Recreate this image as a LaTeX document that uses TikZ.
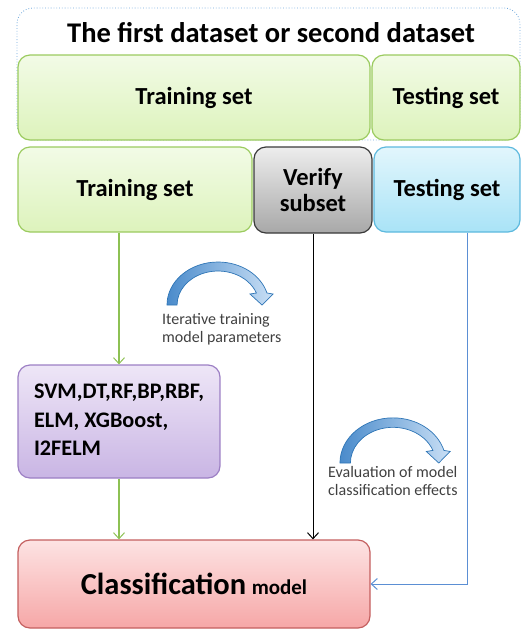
\documentclass[tikz,border=0pt]{standalone}
\usepackage{fontspec}
\setmainfont{Carlito}
\usetikzlibrary{arrows.meta,calc}
\definecolor{grnB}{HTML}{9BCB5F}
\definecolor{grnT}{HTML}{F2FBE6}
\definecolor{grnM}{HTML}{DDF3BC}
\definecolor{bluB}{HTML}{5DB9DE}
\definecolor{bluT}{HTML}{E2F6FC}
\definecolor{bluM}{HTML}{A9E3F7}
\definecolor{gryB}{HTML}{3A3A3A}
\definecolor{gryT}{HTML}{EDEDED}
\definecolor{gryM}{HTML}{A8A8A8}
\definecolor{purB}{HTML}{9C7FC4}
\definecolor{purT}{HTML}{EEE6F7}
\definecolor{purM}{HTML}{C9B5E4}
\definecolor{redB}{HTML}{C45F5F}
\definecolor{redT}{HTML}{FDE3E3}
\definecolor{redM}{HTML}{F6A7A7}
\definecolor{arrB}{HTML}{2E75B6}
\definecolor{arrD}{HTML}{4A8BCB}
\definecolor{arrL}{HTML}{C9DFF5}
\definecolor{lineG}{HTML}{8DC153}
\definecolor{lineB}{HTML}{5B8FD4}
\definecolor{dotB}{HTML}{6FA8DC}
\tikzset{
  box/.style={rectangle, rounded corners=12pt, inner sep=0pt, line width=1.2pt,
    font=\bfseries\fontsize{24.5}{27}\selectfont, align=center},
  greenbox/.style={box, draw=grnB, top color=grnT, bottom color=grnM},
  bluebox/.style={box, draw=bluB, top color=bluT, bottom color=bluM},
  graybox/.style={box, draw=gryB, top color=gryT, bottom color=gryM},
  purplebox/.style={box, draw=purB, top color=purT, bottom color=purM},
  redbox/.style={box, draw=redB, top color=redT, bottom color=redM},
  barb/.style={-{Straight Barb[length=6pt,width=11pt,line width=1pt]}},
  note/.style={font=\fontsize{16}{18}\selectfont, text=black!75, align=left, inner sep=0pt},
  curvy/.style={draw=arrB, line width=0.7pt, left color=arrD, right color=arrL},
}
\newcommand{\curvedarrow}{%
  \path[curvy] (-51,0) arc[start angle=180, end angle=16.2, x radius=51, y radius=43]
    -- (55,11) -- (44,0) -- (32,11) -- (38.4,12)
    arc[start angle=20.7, end angle=180, x radius=41, y radius=34] -- cycle;}
\begin{document}
\begin{tikzpicture}[x=1pt,y=-1pt]
\useasboundingbox (0,0) rectangle (521,630);
% outer dotted frame
\draw[dotB, dotted, line width=0.8pt, rounded corners=16pt] (17,140) -- (17,8) -- (520,8) -- (520,140) -- cycle;
\node[font=\bfseries\fontsize{28.5}{32}\selectfont, inner sep=0pt] (title) at (271,33) {The first dataset or second dataset};
% top row
\node[greenbox, minimum width=352pt, minimum height=85pt] (train1) at (194,97.5) {Training set};
\node[greenbox, minimum width=148pt, minimum height=85pt] (test1) at (446,97.5) {Testing set};
% second row
\node[greenbox, minimum width=234pt, minimum height=85pt] (train2) at (135,189.5) {Training set};
\node[graybox, minimum width=118pt, minimum height=86pt] (verify) at (313,190) {Verify\\[-1pt]subset};
\node[bluebox, minimum width=146pt, minimum height=85pt] (test2) at (447,189.5) {Testing set};
% models
\node[purplebox, minimum width=202pt, minimum height=113pt, align=left,
      font=\bfseries\fontsize{22.2}{28.5}\selectfont] (svm) at (119,421.5)
  {\begin{tabular}{@{}l@{}}SVM,DT,RF,BP,RBF,\\ELM, XGBoost,\\I2FELM\end{tabular}};
\node[redbox, minimum width=352pt, minimum height=88pt] (cls) at (194,584)
  {{\fontsize{30.5}{34}\selectfont Classification} {\fontsize{21}{24}\selectfont model}};
% connectors
\draw[lineG, line width=1.2pt, barb] (train2.south -| svm.north) -- (svm.north);
\draw[lineG, line width=1.2pt, barb] (svm.south) -- (svm.south |- cls.north);
\draw[black, line width=1pt, barb] (verify.south) -- (verify.south |- cls.north);
\draw[lineB, line width=1pt, barb] ([xshift=20pt]test2.south) |- (cls.east);
% curved arrows and notes
\begin{scope}[shift={(218,305)}, x=1pt, y=1pt]\curvedarrow\end{scope}
\node[note, anchor=north west] (n1) at (162,313) {Iterative training\\model parameters};
\begin{scope}[shift={(393,463)}, x=1.04pt, y=1.05pt]\curvedarrow\end{scope}
\node[note, anchor=north west] (n2) at (328,466) {Evaluation of model\\classification effects};
\end{tikzpicture}
\end{document}
